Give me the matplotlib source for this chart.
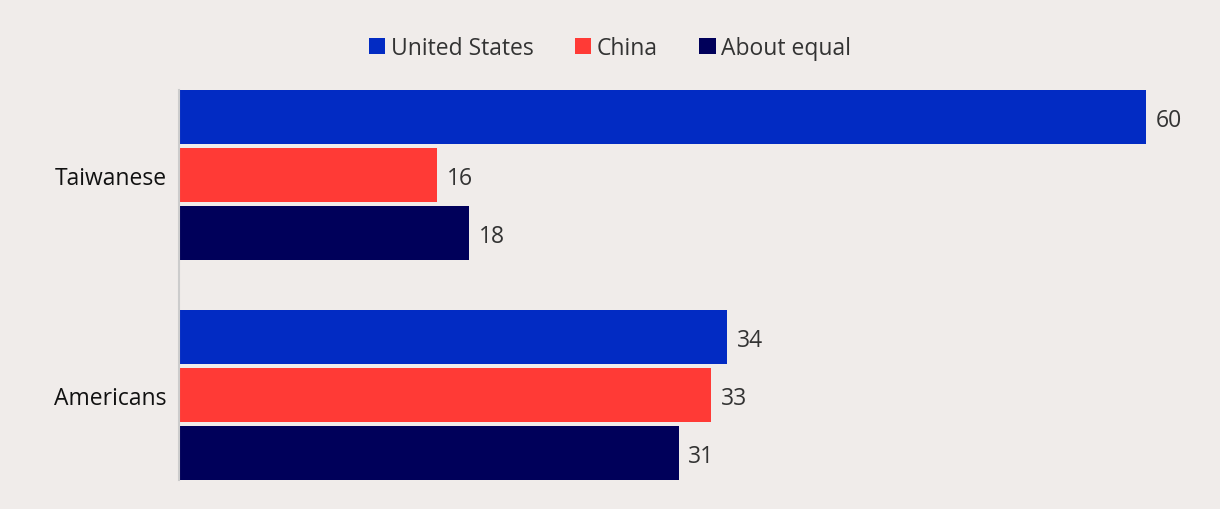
import numpy as np
import matplotlib.pyplot as plt

groups = ["Taiwanese", "Americans"]
series = ["United States", "China", "About equal"]
us = [60, 34]
china = [16, 33]
equal = [18, 31]
colors = ["#022bc3", "#ff3a36", "#00005a"]

bg = "#f0ecea"
plt.rcParams['font.family'] = ['Open Sans', 'DejaVu Sans']

fig = plt.figure(figsize=(12.2, 5.1), dpi=100, facecolor=bg)
ax = fig.add_axes([179/1220, 29/510, 1041/1220, 390/510])
ax.set_facecolor(bg)

y = np.arange(len(groups))
h = 54/220
step = 58/220
for i, (vals, c, name) in enumerate(zip([us, china, equal], colors, series)):
    pos = y + (i - 1) * step
    ax.barh(pos, vals, height=h, color=c, label=name)
    for p, v in zip(pos, vals):
        ax.text(v + 0.6, p + 0.012, str(v), va='center', ha='left', fontsize=16.5, color='#333333')

ax.set_xlim(0, 1041/16.12)
ax.set_ylim(1 + 85/220, -85/220)
ax.set_yticks(y)
ax.set_yticklabels(groups, fontsize=16.5, color='#111111')
ax.tick_params(axis='y', length=0, pad=9)
ax.set_xticks([])
for s in ['top', 'right', 'bottom']:
    ax.spines[s].set_visible(False)
ax.spines['left'].set_color('#cccccc')
ax.spines['left'].set_linewidth(1.5)

leg = fig.legend(loc='center', bbox_to_anchor=(610/1220, 1 - 49/510), ncol=3, frameon=False,
                 fontsize=16.5, handlelength=0.72, handleheight=0.72, handletextpad=0.25,
                 columnspacing=1.8, labelcolor='#333333')

fig.savefig("out.png", dpi=100, facecolor=bg)
